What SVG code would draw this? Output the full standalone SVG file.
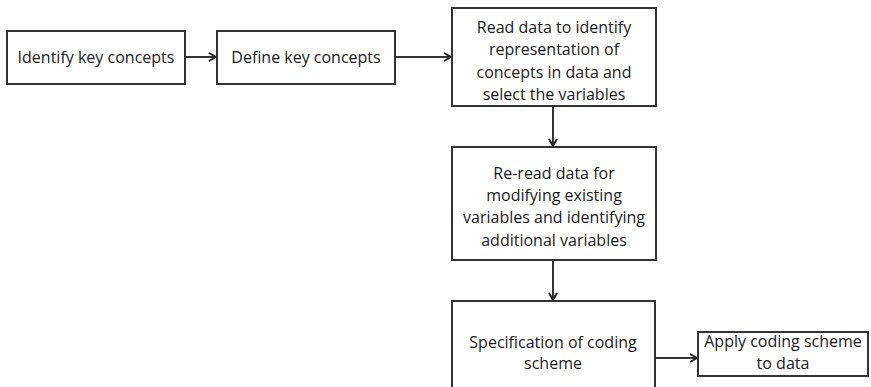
<svg xmlns="http://www.w3.org/2000/svg" width="871" height="387" viewBox="0 0 871 387">
<style>
.box{fill:#fff;stroke:#333;stroke-width:2}
.t{font-family:"Open Sans","Liberation Sans",sans-serif;font-size:16px;fill:#1a1a1a;text-anchor:middle}
.c{stroke:#333;stroke-width:2;fill:none;marker-end:url(#arr)}
</style>
<defs>
<marker id="arr" viewBox="0 0 10 10" refX="9" refY="5" markerWidth="10" markerHeight="10" markerUnits="userSpaceOnUse" orient="auto">
<path d="M2,1 L9,5 L2,9" fill="none" stroke="#222" stroke-width="2"/>
</marker>
</defs>
<rect width="871" height="387" fill="#fff"/>
<g id="connectors">
<path class="c" d="M185,57 H216"/>
<path class="c" d="M395,57 H451"/>
<path class="c" d="M553,106 V146"/>
<path class="c" d="M553,260 V300"/>
<path class="c" d="M655,358 H697"/>
</g>
<g id="n1"><rect class="box" x="7" y="31" width="178" height="53"/>
<text class="t" x="96" y="63">Identify key concepts</text></g>
<g id="n2"><rect class="box" x="217" y="31" width="178" height="53"/>
<text class="t" x="306" y="63">Define key concepts</text></g>
<g id="n3"><rect class="box" x="452" y="8" width="204" height="98"/>
<text class="t" x="554" y="33">Read data to identify</text>
<text class="t" x="554" y="55">representation of</text>
<text class="t" x="554" y="78">concepts in data and</text>
<text class="t" x="554" y="100">select the variables</text></g>
<g id="n4"><rect class="box" x="452" y="147" width="204" height="113"/>
<text class="t" x="554" y="179">Re-read data for</text>
<text class="t" x="554" y="201">modifying existing</text>
<text class="t" x="554" y="223">variables and identifying</text>
<text class="t" x="554" y="246">additional variables</text></g>
<g id="n5"><rect class="box" x="452" y="301" width="203" height="100"/>
<text class="t" x="553" y="348">Specification of coding</text>
<text class="t" x="553" y="369">scheme</text></g>
<g id="n6"><rect class="box" x="698" y="332" width="170" height="44"/>
<text class="t" x="783" y="347">Apply coding scheme</text>
<text class="t" x="783" y="369">to data</text></g>
</svg>
